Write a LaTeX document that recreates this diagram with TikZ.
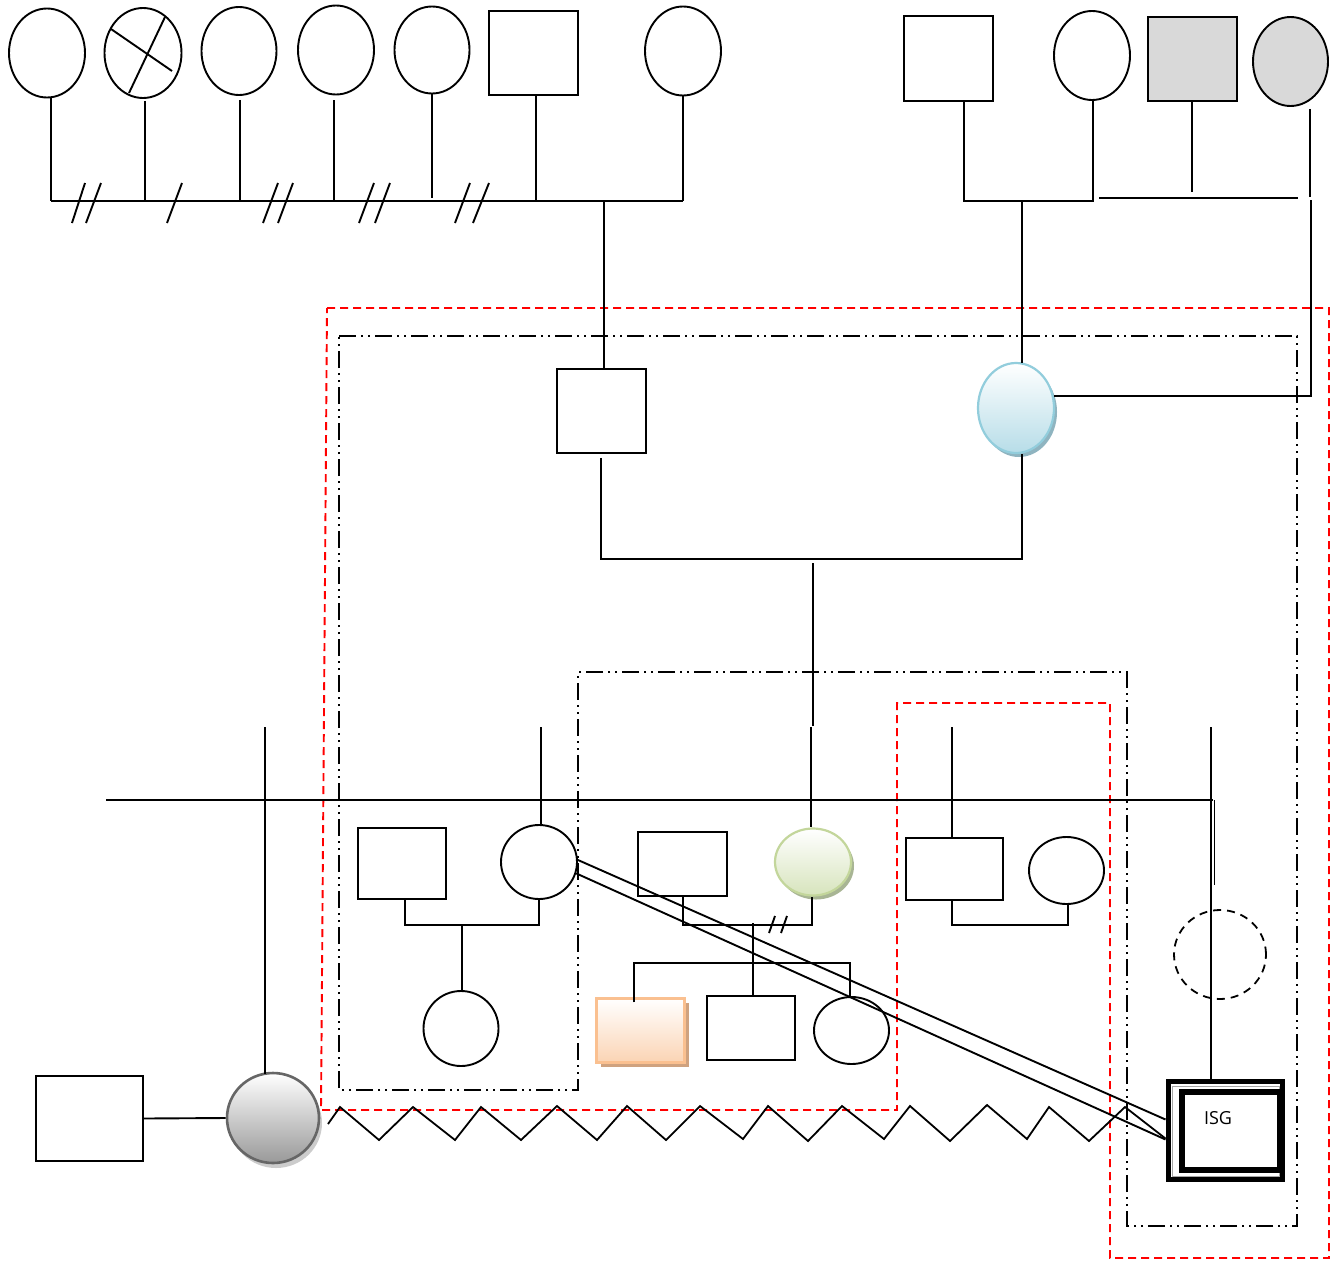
\documentclass[tikz,border=0pt]{standalone}
\usepackage{fontspec}
\setsansfont{Open Sans}
\usetikzlibrary{shapes.geometric,shadows}
\definecolor{cyanB}{HTML}{92CDDC}
\definecolor{cyanF}{HTML}{B7DDE8}
\definecolor{cyanS}{HTML}{8FB4C0}
\definecolor{grnB}{HTML}{C3D69B}
\definecolor{grnF}{HTML}{D7E4BD}
\definecolor{grnS}{HTML}{A8B594}
\definecolor{orB}{HTML}{FAC090}
\definecolor{orF}{HTML}{FBD4B4}
\definecolor{orS}{HTML}{CFA27F}
\definecolor{lgray}{HTML}{D9D9D9}
\begin{document}
\begin{tikzpicture}[x=1pt,y=-1pt,
  ln/.style={line width=1.9pt},
  fem/.style 2 args={ellipse,draw,fill=white,line width=1.9pt,minimum width=#1pt,minimum height=#2pt,inner sep=0pt},
  mal/.style 2 args={rectangle,draw,fill=white,line width=1.9pt,minimum width=#1pt,minimum height=#2pt,inner sep=0pt},
  reddash/.style={draw=red,line width=1.9pt,dash pattern=on 8pt off 5pt},
  ddot/.style={line width=1.8pt,dash pattern=on 17pt off 5pt on 2pt off 5pt on 2pt off 5pt},
  ]
\fill[white] (0,0) rectangle (1341,1261);
\useasboundingbox (0,0) rectangle (1341,1261);

% ---------- frames ----------
\draw[reddash] (327,308) -- (1329,308) -- (1329,1258) -- (1110,1258) -- (1110,703) -- (897,703) -- (897,1110) -- (321,1110) -- cycle;
\draw[ddot] (339,336) -- (1297,336) -- (1297,1226) -- (1127,1226) -- (1127,672) -- (578,672) -- (578,1090) -- (339,1090) -- cycle;

% ---------- top left generation ----------
\node[fem={76}{89}] (a1) at (47,53) {};
\node[fem={77}{90}] (a2) at (143,53) {};
\node[fem={75}{88}] (a3) at (239,51) {};
\node[fem={76}{89}] (a4) at (336,50) {};
\node[fem={75}{87}] (a5) at (432,50) {};
\node[mal={89}{84}] (a6) at (533.5,53) {};
\node[fem={76}{89}] (a7) at (683,51) {};
\draw[ln] (111,29) -- (172,71);
\draw[ln] (165,17) -- (129,93);

\coordinate (t1) at (51,201);
\coordinate (t2) at (145,201);
\coordinate (t3) at (240,201);
\coordinate (t4) at (334,201);
\coordinate (t5) at (432,198);
\coordinate (t6) at (536,201);
\coordinate (t7) at (683,201);
\draw[ln] (t1) -- (t7);
\draw[ln] (a1.south -| t1) -- (t1);
\draw[ln] ([yshift=-2pt]a2.south -| t2) -- (t2);
\draw[ln] ([yshift=-4pt]a3.south -| t3) -- (t3);
\draw[ln] ([yshift=-5pt]a4.south -| t4) -- (t4);
\draw[ln] (a5.south -| t5) -- (t5);
\draw[ln] (a6.south -| t6) -- (t6);
\draw[ln] (a7.south -| t7) -- (t7);
% separation marks
\draw[ln] (85,183) -- (72,223);
\draw[ln] (101,183) -- (86,223);
\draw[ln] (182,183) -- (167,223);
\draw[ln] (278,183) -- (263,223);
\draw[ln] (293,183) -- (278,223);
\draw[ln] (374,183) -- (359,223);
\draw[ln] (390,183) -- (375,223);
\draw[ln] (470,183) -- (455,223);
\draw[ln] (489,183) -- (473,223);

% ---------- top right generation ----------
\node[mal={89}{85}] (c1) at (948.5,58.5) {};
\node[fem={76}{89}] (c2) at (1092,55.5) {};
\node[mal={89}{84},fill=lgray] (c3) at (1192.5,59) {};
\node[fem={75}{89},fill=lgray] (c4) at (1290.5,61.5) {};
\coordinate (t8) at (964,201);
\coordinate (t9) at (1093,201);
\draw[ln] (c1.south -| t8) -- (t8) -- (t9) -- (c2.south -| t9);
\coordinate (t10) at (1192,192);
\draw[ln] (c3.south -| t10) -- (t10);
\coordinate (t11) at (1099,198);
\coordinate (t12) at (1298,198);
\draw[line width=1.3pt] (t11) -- (t12);
\coordinate (t13) at (1310,197);
\draw[ln] ([yshift=-2pt]c4.south -| t13) -- (t13);

% ---------- parents ----------
\node[mal={89}{84}] (b1) at (601.5,411) {};
\node[ellipse,draw=cyanB,line width=2.2pt,top color=white,bottom color=cyanF,
      minimum width=76pt,minimum height=90pt,inner sep=0pt,
      drop shadow={shadow xshift=3pt,shadow yshift=-4pt,fill=cyanS,opacity=1}] (b2) at (1016,408) {};
\coordinate (m1) at (604,201);
\draw[ln] (m1) -- (m1 |- b1.north);
\coordinate (m2) at (1022,201);
\draw[ln] (m2) -- ([yshift=-1pt]m2 |- b2.north);
\coordinate (rv) at (1311,200);
\draw[ln] (rv) -- (rv |- b2.18) -- (b2.18);
\coordinate (u1) at (601,559);
\coordinate (u2) at (1022,559);
\draw[ln] ([yshift=-4pt]b1.south -| u1) -- (u1) -- (u2) -- (b2.south -| u2);
\coordinate (u3) at (813,563);
\coordinate (u4) at (813,726);
\draw[ln] (u3) -- (u4);

% ---------- lower generation ----------
\node[mal={107}{85}] (k) at (89.5,1118.5) {};
\node[ellipse,draw=black!60,line width=2.6pt,top color=white,bottom color=black!40,
      minimum width=92pt,minimum height=90pt,inner sep=0pt,
      drop shadow={shadow xshift=3pt,shadow yshift=-5pt,fill=black!20,opacity=1}] (gc) at (273,1118) {};
\draw[ln] (k.east) -- (gc.west);

\node[mal={88}{71}] (d1) at (402,863.5) {};
\node[fem={76}{74}] (d2) at (539,862) {};
\node[fem={75}{75}] (d3) at (461,1028.5) {};

\node[mal={89}{64}] (e1) at (682.5,864) {};
\node[ellipse,draw=grnB,line width=2.2pt,top color=white,bottom color=grnF,
      minimum width=76pt,minimum height=67pt,inner sep=0pt,
      drop shadow={shadow xshift=3pt,shadow yshift=-4pt,fill=grnS,opacity=1}] (e2) at (813,862) {};
\node[rectangle,draw=orB,line width=2.2pt,top color=white,bottom color=orF,
      minimum width=88pt,minimum height=64pt,inner sep=0pt,
      drop shadow={shadow xshift=4pt,shadow yshift=-4pt,fill=orS,opacity=1}] (e3) at (640.5,1030.5) {};
\node[mal={88}{64}] (e4) at (751,1028) {};
\node[fem={75}{67}] (e5) at (851.5,1030.5) {};

\node[mal={97}{62}] (f1) at (954.5,869) {};
\node[fem={75}{67}] (f2) at (1066.5,870.5) {};

\node[ellipse,draw,line width=1.8pt,dash pattern=on 8pt off 6pt,
      minimum width=92pt,minimum height=89pt,inner sep=0pt] (g1) at (1220,954.5) {};

% ISG
\draw[gray!70,line width=0.8pt] (1172,1086) rectangle (1279,1176);
\node[draw,line width=5pt,minimum width=114pt,minimum height=98pt,inner sep=0pt] (isg) at (1225,1130) {};
\node[draw,line width=6pt,minimum width=98pt,minimum height=78pt,inner sep=0pt] (isgin) at (1231,1131) {};
\node[font=\sffamily\fontsize{18pt}{20pt}\selectfont,inner sep=0pt] (isgt) at (1218,1118) {ISG};

% long horizontal and drops
\coordinate (hl) at (106,800);
\coordinate (hr) at (1213,800);
\draw[ln] (hl) -- (hr);
\draw[ln] ([xshift=1.5pt]hr) -- ++(0,85);
\coordinate (v1) at (265,727);
\coordinate (v2) at (541,727);
\coordinate (v3) at (811,727);
\coordinate (v4) at (952,727);
\coordinate (v5) at (1211,727);
\draw[ln] (v1) -- ([yshift=-2pt]v1 |- gc.north);
\draw[ln] (v2) -- (v2 |- d2.north);
\draw[ln] (v3) -- (v3 |- e2.north);
\draw[ln] (v4) -- (v4 |- f1.north);
\draw[ln] (v5) -- (v5 |- isg.north);

% group D lines
\coordinate (w1) at (405,925);
\coordinate (w2) at (539,925);
\coordinate (w3) at (462,925);
\draw[ln] (d1.south -| w1) -- (w1) -- (w2) -- (d2.south -| w2);
\draw[ln] (w3) -- (w3 |- d3.north);

% group E lines
\coordinate (x1) at (683,925);
\coordinate (x2) at (812,925);
\draw[ln] (e1.south -| x1) -- (x1) -- (x2) -- (e2.south -| x2);
\draw[ln] (775,916) -- (769,933);
\draw[ln] (787,916) -- (781,933);
\coordinate (x3) at (753,923);
\draw[ln] (x3) -- (x3 |- e4.north);
\coordinate (x4) at (634,963);
\coordinate (x5) at (850,963);
\draw[ln] ([yshift=-5pt]x4 |- e3.north) -- (x4) -- (x5) -- ([yshift=-2pt]x5 |- e5.north);

% group F lines
\coordinate (y1) at (952,925);
\coordinate (y2) at (1068,925);
\draw[ln] (f1.south -| y1) -- (y1) -- (y2) -- (f2.south -| y2);

% double line to ISG
\draw[ln] (d2.3) -- ([yshift=10.5pt]isg.west);
\draw[ln] (d2.-17) -- ([yshift=-9.5pt]isg.west);

% zigzag
\coordinate (zz0) at (328,1124);
\draw[line width=1.8pt,line join=miter] (zz0) -- (340,1107) -- (379,1140) -- (413,1107) -- (455,1140) -- (481,1107)
  -- (521,1140) -- (557,1106) -- (597,1140) -- (627,1106) -- (666,1140) -- (700,1106) -- (743,1139)
  -- (768,1106) -- (808,1141) -- (842,1106) -- (884,1139) -- (910,1106) -- (950,1141) -- (987,1105)
  -- (1027,1139) -- (1049,1107) -- (1089,1141) -- (1125,1107) -- ([yshift=-8.5pt]isg.west);
\end{tikzpicture}
\end{document}
